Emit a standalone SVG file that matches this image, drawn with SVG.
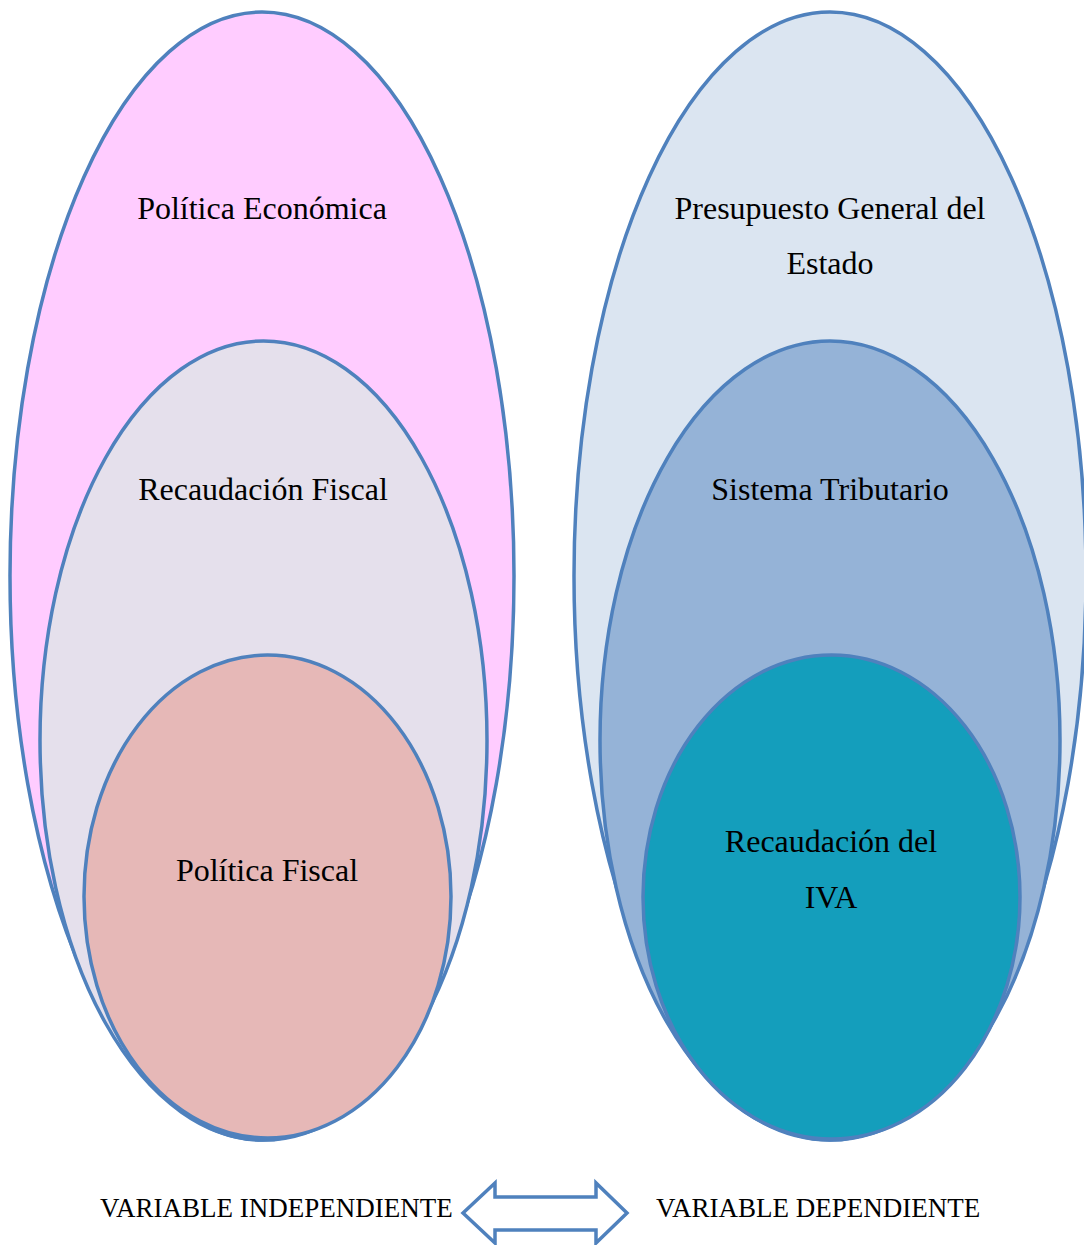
<svg xmlns="http://www.w3.org/2000/svg" width="1084" height="1245" viewBox="0 0 1084 1245">
<style>
.e{stroke:#4f81bd;stroke-width:3.5}
.t{font-family:"Liberation Serif","Times New Roman",serif;font-size:32px;fill:#000;text-anchor:middle}
.b{font-family:"Liberation Serif","Times New Roman",serif;font-size:27px;fill:#000}
</style>
<rect width="1084" height="1245" fill="#fff"/>
<g id="politica-economica">
<ellipse class="e" cx="262" cy="576" rx="252" ry="564" fill="#ffccff"/>
<text class="t" x="262" y="219">Política Económica</text>
</g>
<g id="recaudacion-fiscal">
<ellipse class="e" cx="263.5" cy="740.5" rx="223.5" ry="399.5" fill="#e5e0ec"/>
<text class="t" x="263" y="500">Recaudación Fiscal</text>
</g>
<g id="politica-fiscal">
<ellipse class="e" cx="267.5" cy="896.5" rx="183.5" ry="241.5" fill="#e6b8b7"/>
<text class="t" x="267" y="881">Política Fiscal</text>
</g>
<g id="presupuesto">
<ellipse class="e" cx="830" cy="576" rx="256" ry="564" fill="#dbe5f1"/>
<text class="t" x="830" y="219">Presupuesto General del</text>
<text class="t" x="830" y="274">Estado</text>
</g>
<g id="sistema-tributario">
<ellipse class="e" cx="830" cy="740.5" rx="230" ry="399.5" fill="#95b3d7"/>
<text class="t" x="830" y="500">Sistema Tributario</text>
</g>
<g id="recaudacion-iva">
<ellipse class="e" cx="831.5" cy="897" rx="188.5" ry="242" fill="#149ebc"/>
<text class="t" x="831" y="852">Recaudación del</text>
<text class="t" x="831" y="908">IVA</text>
</g>
<g id="labels">
<text class="b" x="100" y="1217">VARIABLE INDEPENDIENTE</text>
<text class="b" x="656" y="1217">VARIABLE DEPENDIENTE</text>
</g>
<g id="connectors">
<path d="M463,1213 L495,1183 L495,1197 L596,1197 L596,1183 L627,1213 L596,1243 L596,1230 L495,1230 L495,1243 Z" fill="#fff" stroke="#4f81bd" stroke-width="3.5" stroke-linejoin="miter"/>
</g>
</svg>
